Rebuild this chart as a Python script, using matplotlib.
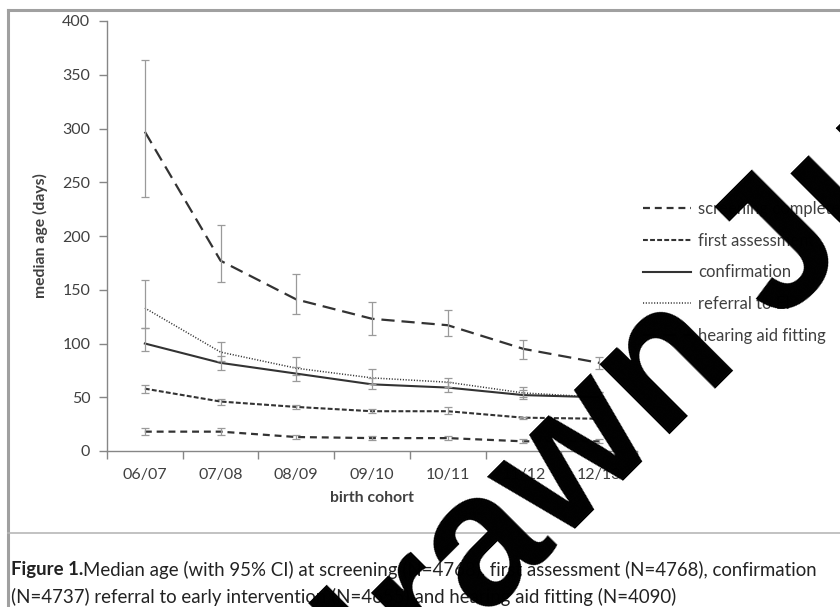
import numpy as np
import matplotlib.pyplot as plt
from matplotlib.lines import Line2D

plt.rcParams['font.family'] = ['Lato', 'DejaVu Sans']
plt.rcParams['lines.scale_dashes'] = False

# birth cohorts
cohorts = ['06/07', '07/08', '08/09', '09/10', '10/11', '11/12', '12/13']

# median age in days with 95% CI
screening = [18, 18, 13, 12, 12, 9, 9]
screening_lo = [15, 15, 11, 10, 10, 7, 7]
screening_hi = [21, 21, 15, 14, 14, 11, 11]

assessment = [58, 46, 41, 37, 37, 31, 30]
assessment_lo = [54, 43, 39, 35, 34, 30, 28]
assessment_hi = [61, 48, 43, 39, 41, 32, 32]

confirmation = [100, 82, 72, 62, 59, 52, 50]
confirmation_lo = [93, 75, 65, 58, 55, 48, 46]
confirmation_hi = [114, 88, 78, 68, 64, 57, 55]

referral = [133, 92, 77, 68, 64, 54, 50]
referral_lo = [114, 84, 71, 62, 60, 50, 47]
referral_hi = [159, 101, 87, 76, 68, 60, 55]

hearing_aid = [297, 177, 141, 123, 117, 95, 82]
hearing_aid_lo = [236, 157, 127, 108, 107, 86, 76]
hearing_aid_hi = [364, 210, 165, 139, 131, 103, 87]

labels = ['screening complete', 'first assessment', 'confirmation',
          'referral to EI', 'hearing aid fitting']

W, H = 840, 607
fig = plt.figure(figsize=(W / 100, H / 100), dpi=100)
ax = fig.add_axes([107 / W, 1 - 451 / H, 530 / W, 430 / H])

x = np.arange(len(cohorts))
line_col = '#333333'
err_col = '#9a9a9a'
txt_col = '#404040'
series = [
    (screening, screening_lo, screening_hi, dict(ls=(0, (5, 3.5)), lw=1.6)),
    (assessment, assessment_lo, assessment_hi, dict(ls=(0, (3.5, 1.6)), lw=1.5)),
    (confirmation, confirmation_lo, confirmation_hi, dict(ls='-', lw=1.5)),
    (referral, referral_lo, referral_hi, dict(ls=(0, (0.8, 1.2)), lw=1.1)),
    (hearing_aid, hearing_aid_lo, hearing_aid_hi, dict(ls=(0, (9.5, 5)), lw=1.6)),
]

handles = []
for (vals, lo, hi, style), lab in zip(series, labels):
    vals = np.array(vals)
    yerr = [vals - np.array(lo), np.array(hi) - vals]
    ax.errorbar(x, vals, yerr=yerr, fmt='none', ecolor=err_col,
                elinewidth=0.9, capsize=3, capthick=0.9, zorder=3)
    ax.plot(x, vals, color=line_col, zorder=2, **style)
    handles.append(Line2D([], [], color=line_col, **style))

ax.set_xlim(-0.5, 6.5)
ax.set_ylim(0, 400)
ax.set_yticks(np.arange(0, 401, 50))
ax.set_xticks(x)
ax.set_xticklabels(cohorts)
ax.set_xticks(np.arange(-0.5, 7, 1), minor=True)
ax.tick_params(axis='x', which='major', length=0, pad=12, labelsize=11.5,
               labelcolor=txt_col)
ax.tick_params(axis='x', which='minor', length=6, width=1, color='#868686')
ax.tick_params(axis='y', length=6, width=1, color='#868686', pad=6,
               labelsize=11.5, labelcolor=txt_col)
for s in ['top', 'right']:
    ax.spines[s].set_visible(False)
for s in ['left', 'bottom']:
    ax.spines[s].set_color('#868686')
    ax.spines[s].set_linewidth(1)

ax.set_ylabel('median age (days)', fontsize=11.3, fontweight='bold',
              color=txt_col, labelpad=10)
ax.set_xlabel('birth cohort', fontsize=11.3, fontweight='bold',
              color=txt_col, labelpad=7)

fig.legend(handles, labels, loc='upper left',
           bbox_to_anchor=(643 / W, 1 - 201 / H), frameon=False,
           fontsize=12, handlelength=2.85, handletextpad=0.45,
           labelspacing=0.94, borderpad=0, borderaxespad=0,
           labelcolor=txt_col)

# frame around chart and caption
gray = '#a0a0a0'
fig.add_artist(Line2D([8 / W, 8 / W], [0, 1 - 10 / H], color=gray, lw=2.2,
                      transform=fig.transFigure))
fig.add_artist(Line2D([8 / W, 1], [1 - 10 / H, 1 - 10 / H], color=gray,
                      lw=2.2, transform=fig.transFigure))
fig.add_artist(Line2D([8 / W, 1], [1 - 533 / H, 1 - 533 / H], color='#b8b8b8',
                      lw=1.2, transform=fig.transFigure))

# caption
cap_size = 13.4
fig.canvas.draw()
r = fig.canvas.get_renderer()
t1 = fig.text(11 / W, 1 - 570 / H, 'Figure 1.', fontsize=cap_size,
              fontweight='bold', va='center', color='#222222')
bb = t1.get_window_extent(r)
fig.text(bb.x1 / W, 1 - 570 / H,
         'Median age (with 95% CI) at screening (N=4768), first assessment '
         '(N=4768), confirmation', fontsize=cap_size, va='center',
         color='#222222')
fig.text(11 / W, 1 - 597 / H,
         '(N=4737) referral to early intervention (N=4655) and hearing aid '
         'fitting (N=4090)', fontsize=cap_size, va='center', color='#222222')

# watermark
fig.text(66 / W, 1 - 1039 / H, 'Withdrawn Ju', fontsize=135,
         family='Liberation Sans', fontweight='bold', rotation=45,
         rotation_mode='anchor', ha='left', va='baseline', color='black',
         zorder=10)

fig.savefig('out.png', dpi=100)
